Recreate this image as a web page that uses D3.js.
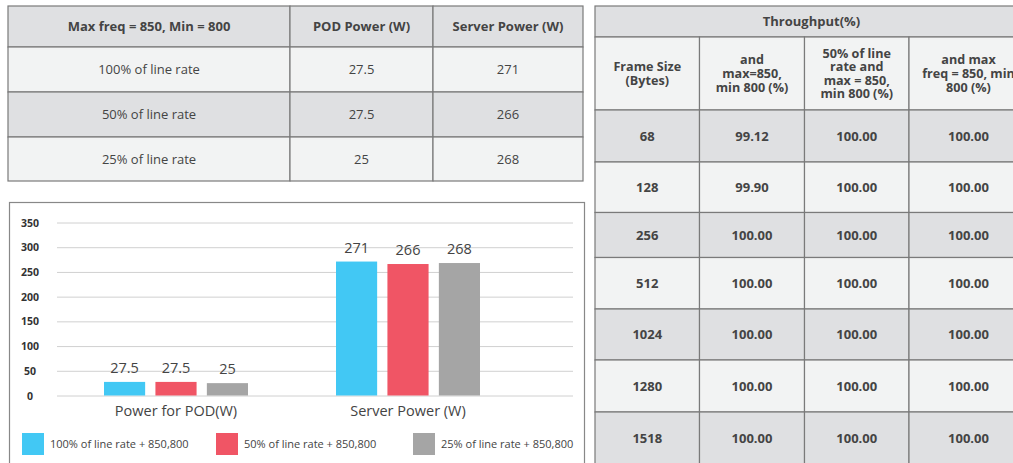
<!DOCTYPE html>
<html>
<head>
  <meta charset="utf-8">
  <title>Power and Throughput</title>
  <script src="https://d3js.org/d3.v7.min.js"></script>
  <style>
    body { margin: 0; background: #fff; }
    svg { font-family: "Open Sans", "Noto Sans", sans-serif; }
  </style>
</head>
<body>
  <svg width="1013" height="463"></svg>
  <script>
    // power table
    const powerHeader = ["Max freq = 850, Min = 800", "POD Power (W)", "Server Power (W)"];
    const lineRates = ["100% of line rate", "50% of line rate", "25% of line rate"];
    const podPower = [27.5, 27.5, 25];
    const serverPower = [271, 266, 268];

    // throughput table
    const tpTitle = "Throughput(%)";
    const tpHeader = [
      ["Frame Size", "(Bytes)"],
      ["and", "max=850,", "min 800 (%)"],
      ["50% of line", "rate and", "max = 850,", "min 800 (%)"],
      ["and max", "freq = 850, min", "800 (%)"]
    ];
    const frameSizes = ["68", "128", "256", "512", "1024", "1280", "1518"];
    const tpA = ["99.12", "99.90", "100.00", "100.00", "100.00", "100.00", "100.00"];
    const tpB = ["100.00", "100.00", "100.00", "100.00", "100.00", "100.00", "100.00"];
    const tpC = ["100.00", "100.00", "100.00", "100.00", "100.00", "100.00", "100.00"];

    // chart
    const groups = ["Power for POD(W)", "Server Power (W)"];
    const seriesNames = ["100% of line rate + 850,800", "50% of line rate + 850,800", "25% of line rate + 850,800"];
    const colors = ["#42c8f4", "#f05565", "#a5a5a5"];
    const yTicks = [0, 50, 100, 150, 200, 250, 300, 350];

    const svg = d3.select("svg");
    const dark = "#f2f3f3", light = "#dfe0e2", border = "#7a7a7a", ink = "#444";

    function drawCell(g, x, y, w, h, fill, lines, bold, size) {
      g.append("rect").attr("x", x).attr("y", y).attr("width", w).attr("height", h)
        .attr("fill", fill).attr("stroke", border).attr("stroke-width", 1.2);
      const lh = lines.length > 1 ? 13.6 : size;
      const fs = lines.length > 1 ? 12.6 : size;
      const t = g.append("text")
        .attr("text-anchor", "middle")
        .attr("fill", ink)
        .attr("font-size", fs)
        .attr("font-weight", bold ? 700 : 400);
      lines.forEach((l, i) => {
        t.append("tspan").attr("x", x + w / 2)
          .attr("y", y + h / 2 + (i - (lines.length - 1) / 2) * lh + fs * 0.36)
          .text(l);
      });
    }

    // ---- left table ----
    const lt = svg.append("g");
    const lCols = [8, 290, 433, 583];
    const lRows = [6, 47, 92, 137, 181];
    const lData = [powerHeader].concat(lineRates.map((r, i) => [r, String(podPower[i]), String(serverPower[i])]));
    lData.forEach((row, r) => {
      row.forEach((v, c) => {
        drawCell(lt, lCols[c], lRows[r], lCols[c + 1] - lCols[c], lRows[r + 1] - lRows[r],
          r % 2 === 0 ? light : dark, [v], r === 0, 13);
      });
    });

    // ---- right table ----
    const rt = svg.append("g");
    const rCols = [595, 699.5, 804.5, 909, 1028];
    const rRows = [6, 37, 110, 162, 212.5, 257.5, 309, 360, 412, 464];
    drawCell(rt, rCols[0], rRows[0], rCols[4] - rCols[0], rRows[1] - rRows[0], light, [tpTitle], true, 13);
    tpHeader.forEach((lines, c) => {
      drawCell(rt, rCols[c], rRows[1], rCols[c + 1] - rCols[c], rRows[2] - rRows[1], dark, lines, true, 13);
    });
    frameSizes.forEach((fs, r) => {
      const row = [fs, tpA[r], tpB[r], tpC[r]];
      row.forEach((v, c) => {
        drawCell(rt, rCols[c], rRows[r + 2], rCols[c + 1] - rCols[c], rRows[r + 3] - rRows[r + 2],
          r % 2 === 0 ? light : dark, [v], true, 13);
      });
    });

    // ---- bar chart ----
    const ch = svg.append("g");
    ch.append("rect").attr("x", 9.5).attr("y", 202.5).attr("width", 575).attr("height", 270)
      .attr("fill", "#fff").attr("stroke", "#888").attr("stroke-width", 1.2);

    const y = d3.scaleLinear().domain([0, 350]).range([395.5, 222.5]);
    const x0 = d3.scaleBand().domain(groups).range([60, 524]);
    const x1 = d3.scaleBand().domain(seriesNames).range([0, 144]).paddingInner(0.2);
    const groupVals = [podPower, serverPower];

    ch.append("g").selectAll("line").data(yTicks).join("line")
      .attr("x1", 57).attr("x2", 573)
      .attr("y1", d => y(d) + 0.5).attr("y2", d => y(d) + 0.5)
      .attr("stroke", "#d0d0d0").attr("stroke-width", 1);

    ch.append("g").selectAll("text").data(yTicks).join("text")
      .attr("x", 30).attr("y", d => y(d) + 4)
      .attr("text-anchor", "middle").attr("font-size", 10.5).attr("font-weight", 700)
      .attr("fill", "#333").text(d => d);

    groups.forEach((gName, gi) => {
      const gx = x0(gName) + x0.bandwidth() / 2 - 72;
      const vals = groupVals[gi];
      const gg = ch.append("g").attr("transform", `translate(${gx},0)`);
      gg.selectAll("rect").data(vals).join("rect")
        .attr("x", (d, i) => x1(seriesNames[i]))
        .attr("y", d => y(d))
        .attr("width", x1.bandwidth())
        .attr("height", d => y(0) - y(d))
        .attr("fill", (d, i) => colors[i]);
      gg.selectAll("text").data(vals).join("text")
        .attr("x", (d, i) => x1(seriesNames[i]) + x1.bandwidth() / 2)
        .attr("y", d => y(d) - 9)
        .attr("text-anchor", "middle").attr("font-size", 14.5).attr("fill", ink)
        .text(d => d);
      ch.append("text")
        .attr("x", x0(gName) + x0.bandwidth() / 2).attr("y", 416)
        .attr("text-anchor", "middle").attr("font-size", 14.5).attr("fill", ink)
        .text(gName);
    });

    const legX = [22, 216, 413];
    const leg = ch.append("g").selectAll("g").data(seriesNames).join("g")
      .attr("transform", (d, i) => `translate(${legX[i]},433)`);
    leg.append("rect").attr("width", 22).attr("height", 22).attr("fill", (d, i) => colors[i]);
    leg.append("text").attr("x", 28).attr("y", 15)
      .attr("font-size", 11).attr("fill", ink).text(d => d);
  </script>
</body>
</html>
